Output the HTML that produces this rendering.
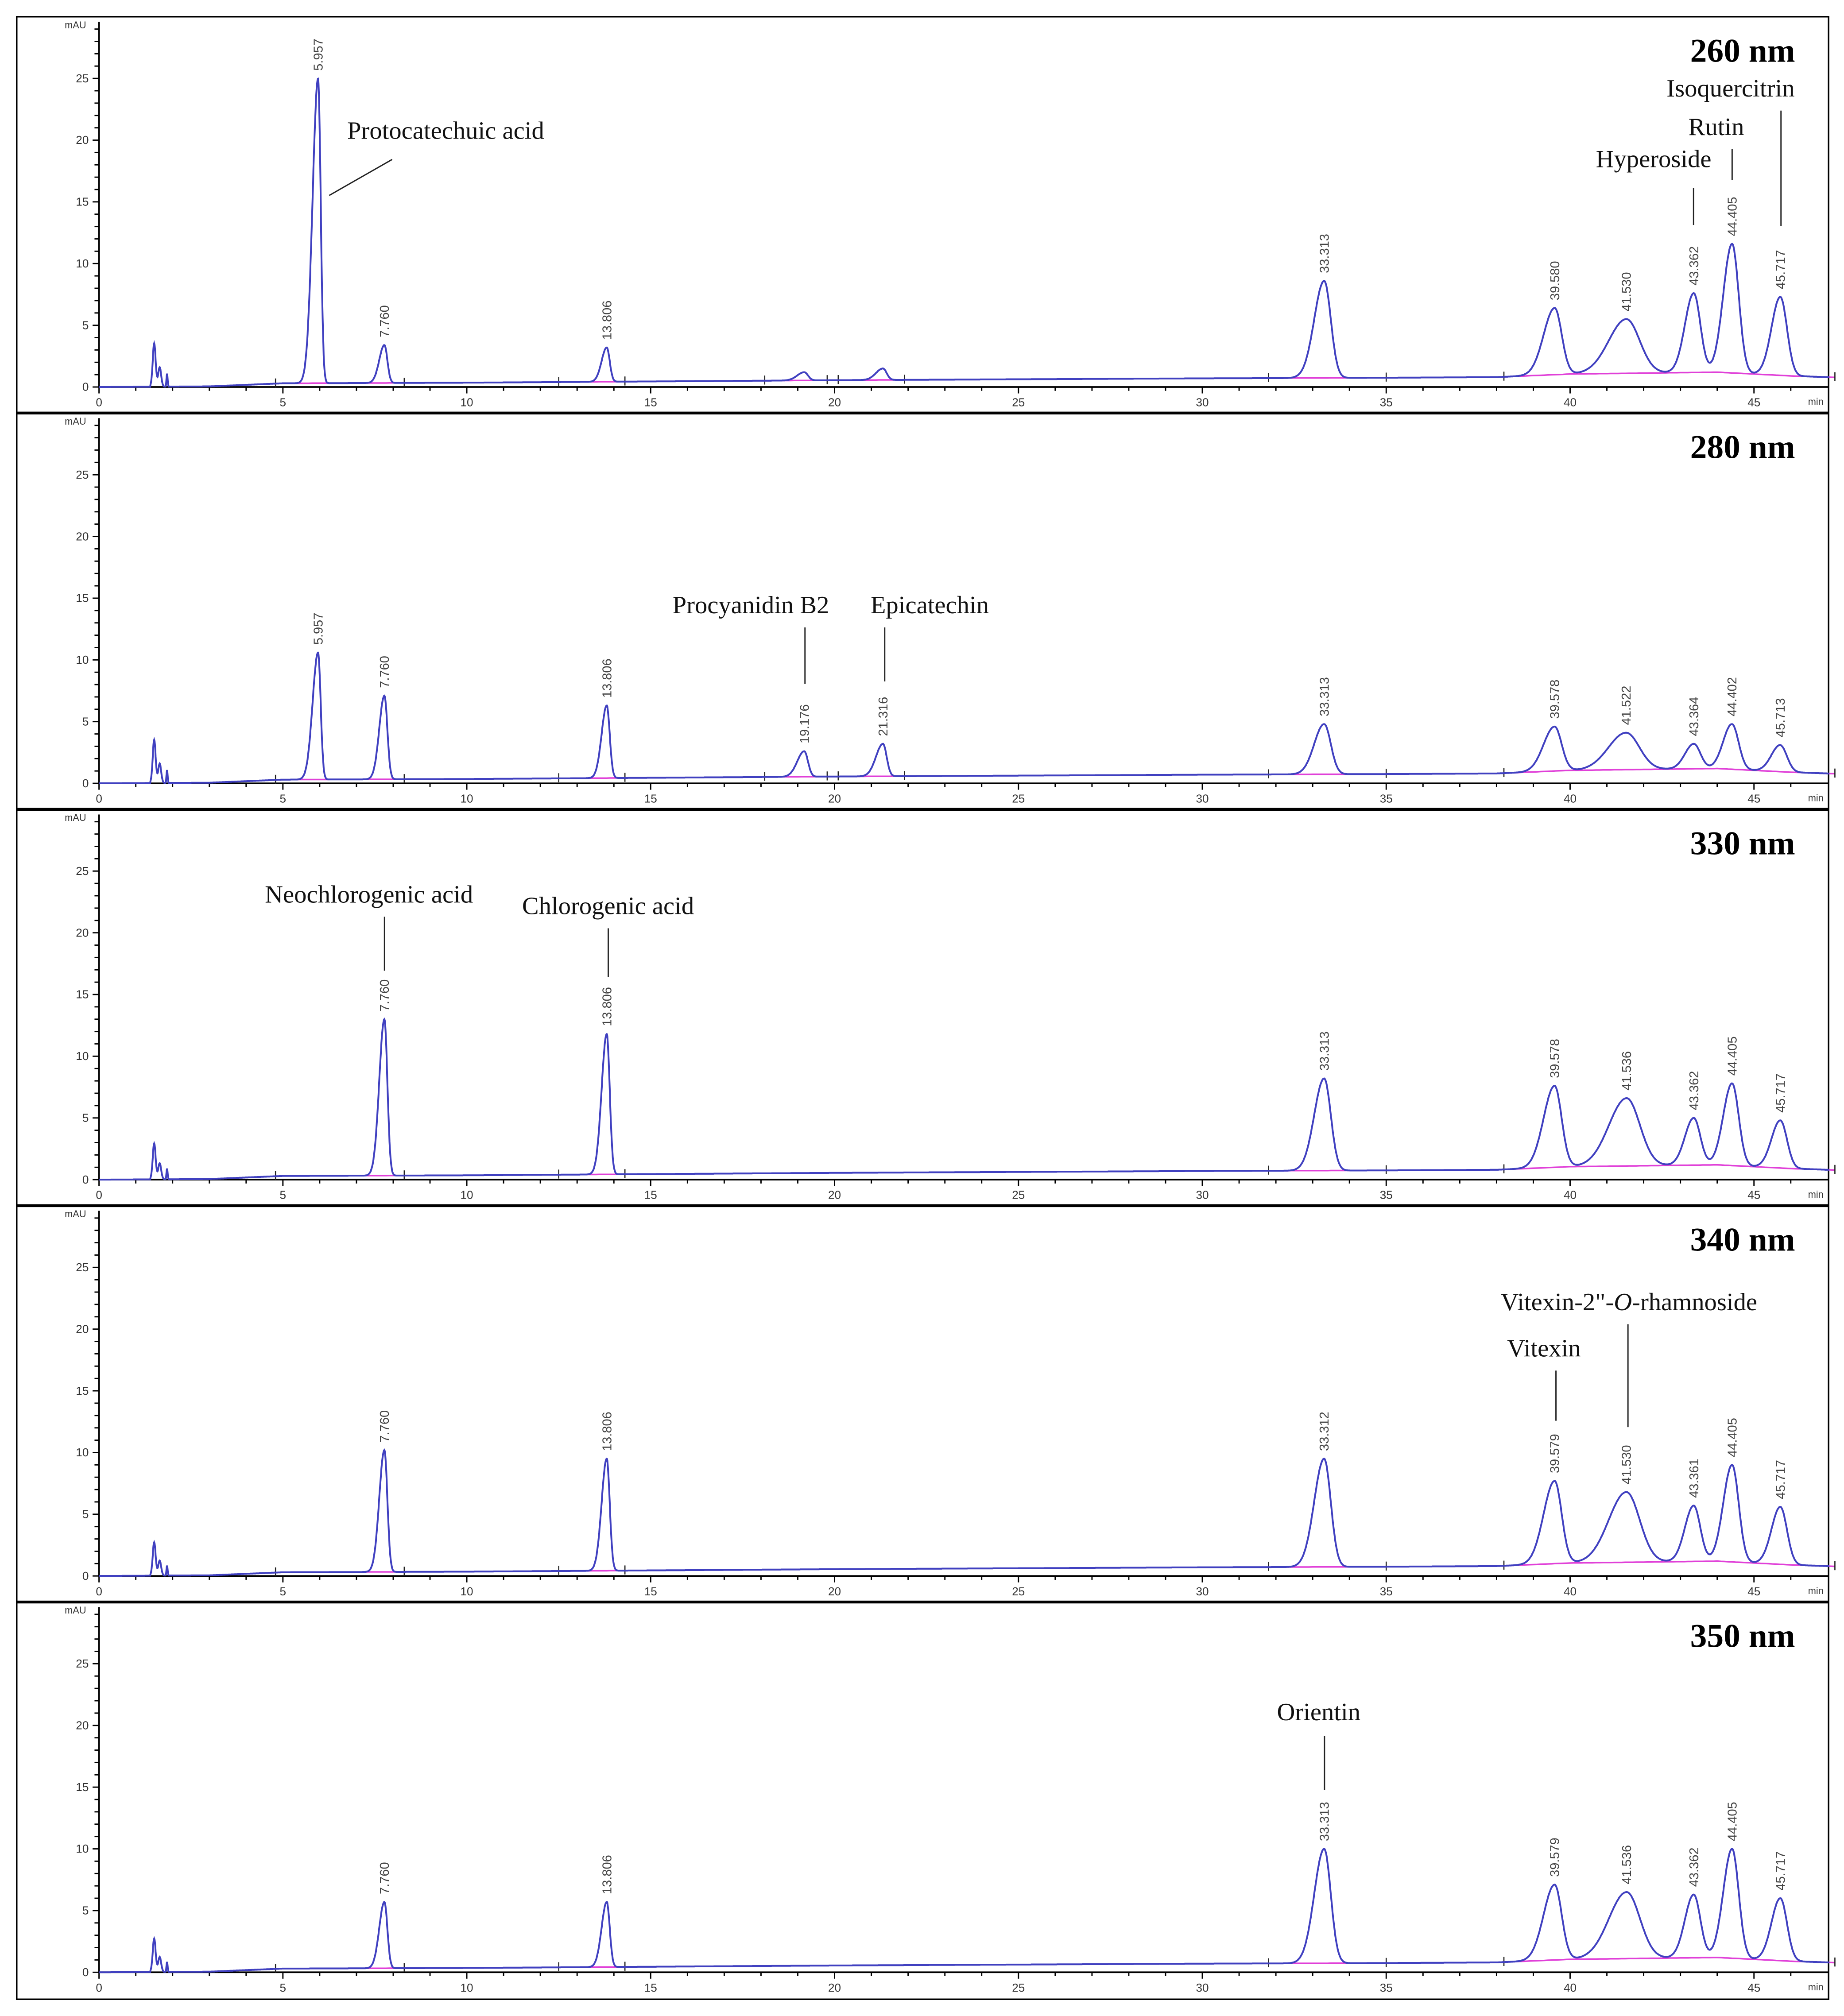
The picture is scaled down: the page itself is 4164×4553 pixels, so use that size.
<!DOCTYPE html>
<html><head><meta charset="utf-8"><style>
html,body{margin:0;padding:0;background:#fff}
svg{display:block}
.tk{font-family:"Liberation Sans",sans-serif;font-size:9px;fill:#333}
.pl{font-family:"Liberation Sans",sans-serif;font-size:10px;fill:#444}
.an{font-family:"Liberation Serif",serif;font-size:19.5px;fill:#111}
.wl{font-family:"Liberation Serif",serif;font-size:26px;font-weight:bold;fill:#000}
</style></head><body>
<svg id="c" width="4164" height="4553" viewBox="0 0 1434 1568" preserveAspectRatio="none"></svg>
<script>
// ---- data (per panel) ----
const wavelengths = ["260 nm","280 nm","330 nm","340 nm","350 nm"];
const rt260 = [5.957,7.760,13.806,19.176,21.316,33.313,39.580,41.530,43.362,44.405,45.717];
const h260  = [25.0,3.4,3.2,1.2,1.5,8.6,6.4,5.5,7.6,11.6,7.3];
const lab260 = ["5.957","7.760","13.806","","","33.313","39.580","41.530","43.362","44.405","45.717"];
const rt280 = [5.957,7.760,13.806,19.176,21.316,33.313,39.578,41.522,43.364,44.402,45.713];
const h280  = [10.6,7.1,6.3,2.6,3.2,4.8,4.6,4.1,3.2,4.8,3.1];
const lab280 = ["5.957","7.760","13.806","19.176","21.316","33.313","39.578","41.522","43.364","44.402","45.713"];
const rt330 = [7.760,13.806,33.313,39.578,41.536,43.362,44.405,45.717];
const h330  = [13.0,11.8,8.2,7.6,6.6,5.0,7.8,4.8];
const lab330 = ["7.760","13.806","33.313","39.578","41.536","43.362","44.405","45.717"];
const rt340 = [7.760,13.806,33.312,39.579,41.530,43.361,44.405,45.717];
const h340  = [10.2,9.5,9.5,7.7,6.8,5.7,9.0,5.6];
const lab340 = ["7.760","13.806","33.312","39.579","41.530","43.361","44.405","45.717"];
const rt350 = [7.760,13.806,33.313,39.579,41.536,43.362,44.405,45.717];
const h350  = [5.7,5.7,10.0,7.1,6.5,6.3,10.0,6.0];
const lab350 = ["7.760","13.806","33.313","39.579","41.536","43.362","44.405","45.717"];
const solventH = [3.5,3.5,2.9,2.7,2.7];
const baseT = [0,3,5,10,15,20,30,35,38,40,44,46,47.5];
const baseV = [0,0.05,0.3,0.35,0.45,0.55,0.7,0.75,0.8,1.05,1.2,0.9,0.75];
const yTicks = [0,5,10,15,20,25];
const xTicks = [0,5,10,15,20,25,30,35,40,45];
</script>
<script>
const svg=document.getElementById('c');
const NS='http://www.w3.org/2000/svg';
function mk(tag,attrs,parent){const e=document.createElementNS(NS,tag);for(const k in attrs)e.setAttribute(k,attrs[k]);(parent||svg).appendChild(e);return e;}
const X0=77, PXM=28.6, PXU=9.6, PH=308.25, Y0=301, XR=1422;
function xs(t){return X0+t*PXM;}
function base(t){for(let i=0;i<baseT.length-1;i++){if(t<=baseT[i+1]){const f=(t-baseT[i])/(baseT[i+1]-baseT[i]);return baseV[i]+f*(baseV[i+1]-baseV[i]);}}return baseV[baseV.length-1];}
function sig(rt){ let s; if(rt<6.5)s=[0.15,0.07]; else if(rt<15)s=[0.14,0.08]; else if(rt<25)s=[0.19,0.1]; else if(rt<35)s=[0.27,0.18]; else if(rt<40)s=[0.3,0.19]; else if(rt<42)s=[0.48,0.36]; else s=[0.24,0.18]; return s;}
const sets=[[rt260,h260,lab260],[rt280,h280,lab280],[rt330,h330,lab330],[rt340,h340,lab340],[rt350,h350,lab350]];
let fr=mk('rect',{x:13,y:13,width:1409,height:1542,fill:'none',stroke:'#000','stroke-width':1.2});

for(let k=0;k<5;k++){
  const g=mk('g',{});
  
  
  const y0=Y0+k*PH;
  const ys=v=>y0-v*PXU;
  if(k>0){const s=mk('line',{x1:13,x2:1422,y1:13+k*PH,y2:13+k*PH,stroke:'#000','stroke-width':2.2},g);}
  const ya=mk('line',{x1:X0,x2:X0,y1:y0,y2:y0-284,stroke:'#000','stroke-width':1.3},g);
  
  for(let v=0;v<=29;v++){mk('line',{x1:X0,x2:X0-(v%5==0?5:3.5),y1:ys(v),y2:ys(v),stroke:'#000','stroke-width':1},g);}
  yTicks.forEach(v=>{const t=mk('text',{x:X0-8,y:ys(v)+3,'text-anchor':'end',class:'tk'},g);t.textContent=v;});
  const mu=mk('text',{x:X0-10,y:y0-279,'text-anchor':'end',class:'tk',style:'font-size:7.5px'},g);mu.textContent='mAU';
  const xa=mk('line',{x1:X0,x2:XR,y1:y0,y2:y0,stroke:'#000','stroke-width':1.3},g);
  
  for(let t=0;t<=46;t++){mk('line',{x1:xs(t),x2:xs(t),y1:y0,y2:y0+(t%5==0?5:3),stroke:'#000','stroke-width':1},g);}
  xTicks.forEach(v=>{const t=mk('text',{x:xs(v),y:y0+15,'text-anchor':'middle',class:'tk'},g);t.textContent=v;});
  const mn=mk('text',{x:1406,y:y0+14,class:'tk',style:'font-size:7.5px'},g);mn.textContent='min';
  const [rts,hs,labs]=sets[k];
  const segs=[[4.8,8.3],[12.5,14.3],[31.8,35.0],[38.2,47.2]];
  if(k<2)segs.push([18.1,19.8],[20.1,21.9]);
  segs.forEach(s=>{let d='';for(let t=s[0];t<=s[1]+0.001;t+=0.1)d+=(d?'L':'M')+xs(t).toFixed(1)+','+ys(base(t)).toFixed(1);const p=mk('path',{d:d,fill:'none',stroke:'#e040d8','stroke-width':1.2},g);
    [s[0],s[1]].forEach(t=>{mk('line',{x1:xs(t),x2:xs(t),y1:ys(base(t))-4,y2:ys(base(t))+3,stroke:'#222','stroke-width':0.9},g);});});
  let d='';
  for(let t=0;t<=47.05;t+=0.01){
    let v=base(t);
    const sh=solventH[k];
    if(t>1.4&&t<1.95){v+=sh*Math.exp(-Math.pow((t-1.5)/0.04,2)/2)+sh*0.45*Math.exp(-Math.pow((t-1.65)/0.04,2)/2)+sh*0.3*Math.exp(-Math.pow((t-1.85)/0.015,2)/2);}
    for(let i=0;i<rts.length;i++){const [sl,sr]=sig(rts[i]);const s=t<rts[i]?sl:sr;const hh=hs[i]-base(rts[i]);v+=hh*Math.exp(-Math.pow((t-rts[i])/s,2)/2);}
    d+=(d?'L':'M')+xs(t).toFixed(1)+','+ys(v).toFixed(1);
  }
  const tr=mk('path',{d:d,fill:'none',stroke:'#4040c0','stroke-width':1.4},g);
  
  rts.forEach((rt,i)=>{if(!labs[i])return;const px=xs(rt)+3.5,py=ys(hs[i])-6;const t=mk('text',{x:px,y:py,transform:'rotate(-90 '+px+' '+py+')',class:'pl'},g);t.textContent=labs[i];});
  const w=mk('text',{x:1396,y:48+k*PH,'text-anchor':'end',class:'wl'},g);w.textContent=wavelengths[k];
}
const ann=[
 ["Protocatechuic  acid",270,108,305,124,256,152],
 ["Isoquercitrin",1296,75,1385,86,1385,176],
 ["Rutin",1313,105,1347,116,1347,140],
 ["Hyperoside",1241,130,1317,146,1317,175],
 ["Procyanidin  B2",523,477,626,488,626,532],
 ["Epicatechin",677,477,688,488,688,530],
 ["Neochlorogenic  acid",206,702,299,713,299,755],
 ["Chlorogenic  acid",406,711,473,722,473,760],
 ["Vitexin",1172,1055,1210,1066,1210,1105],
 ["Orientin",993,1338,1030,1350,1030,1392]
];
ann.forEach(a=>{const t=mk('text',{x:a[1],y:a[2],class:'an','xml:space':'preserve'});t.textContent=a[0];
 const l=mk('line',{x1:a[3],y1:a[4],x2:a[5],y2:a[6],stroke:'#222','stroke-width':1});});
const vt=mk('text',{x:1167,y:1019,class:'an'});vt.innerHTML='Vitexin-2"-<tspan font-style="italic">O</tspan>-rhamnoside';

const vl=mk('line',{x1:1266,y1:1030,x2:1266,y2:1110,stroke:'#222','stroke-width':1});
</script>
</body></html>
